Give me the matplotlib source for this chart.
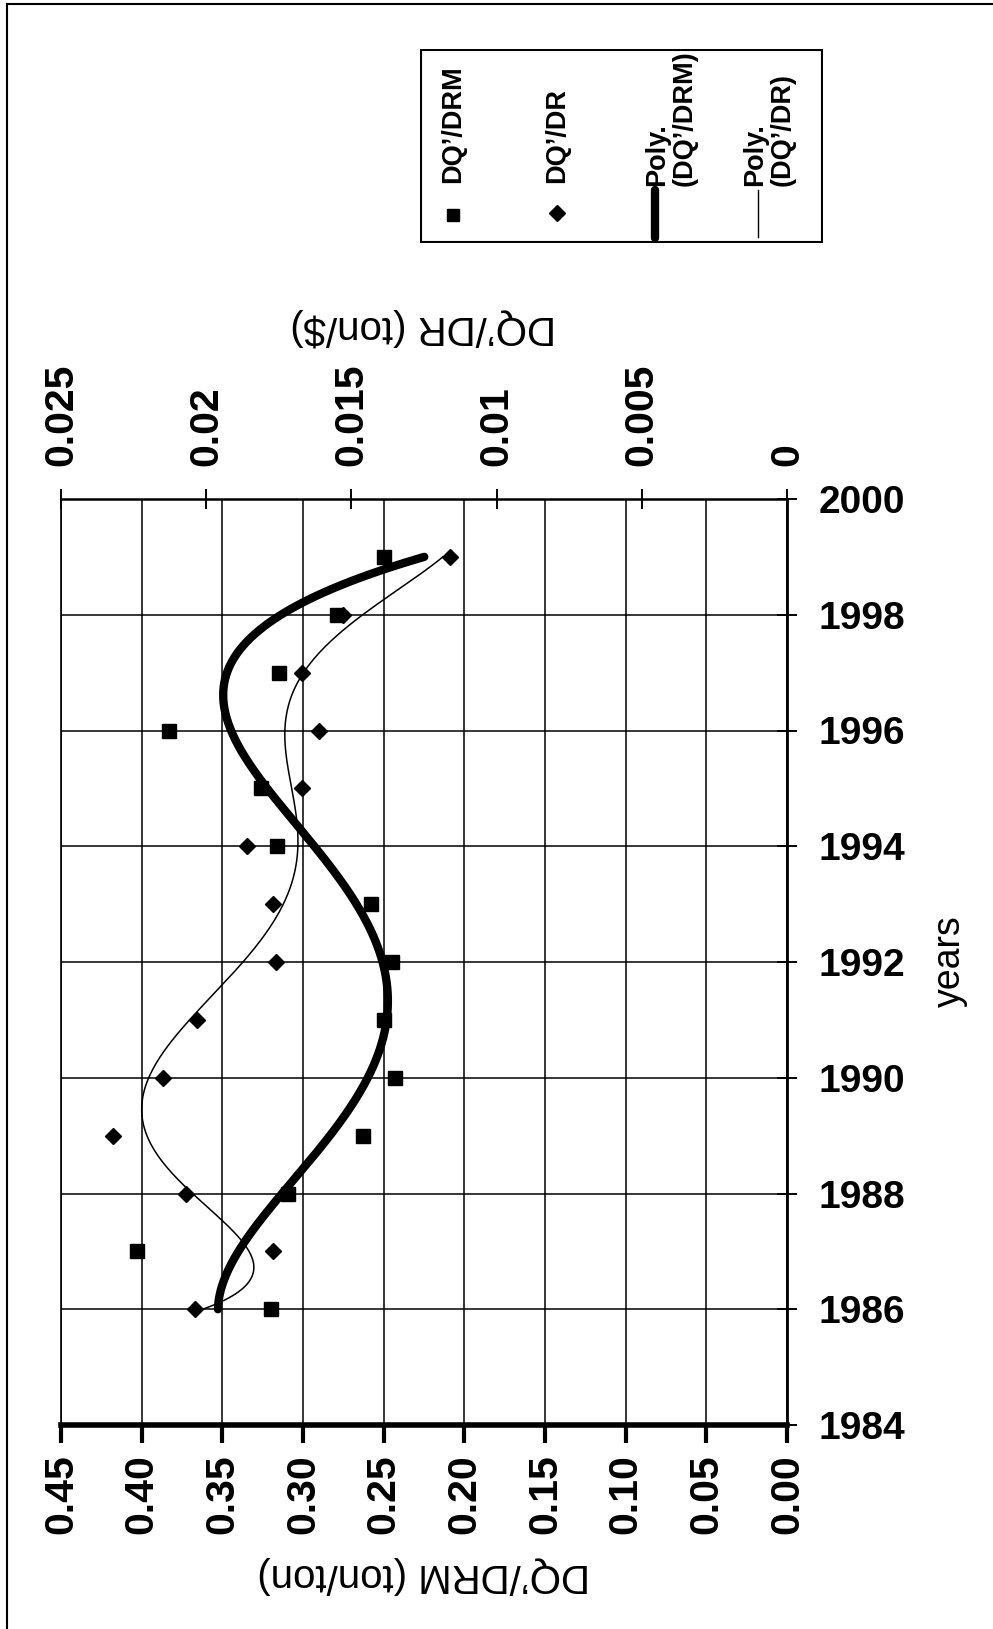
import numpy as np
import matplotlib
matplotlib.use("Agg")
import matplotlib.pyplot as plt
from matplotlib.lines import Line2D
from matplotlib.patches import Rectangle

plt.rcParams['font.family'] = ['Liberation Sans', 'DejaVu Sans']

# data
years = [1986, 1987, 1988, 1989, 1990, 1991, 1992, 1993, 1994, 1995, 1996, 1997, 1998, 1999]
drm = [0.320, 0.403, 0.309, 0.263, 0.243, 0.250, 0.245, 0.258, 0.316, 0.326, 0.383, 0.315, 0.279, 0.250]
dr = [0.0204, 0.0177, 0.0207, 0.0232, 0.0215, 0.0203, 0.0176, 0.0177, 0.0186, 0.0167, 0.0161, 0.0167, 0.0153, 0.0116]

drm_ticks = [0.45, 0.40, 0.35, 0.30, 0.25, 0.20, 0.15, 0.10, 0.05, 0.00]
drm_labels = ["0.45", "0.40", "0.35", "0.30", "0.25", "0.20", "0.15", "0.10", "0.05", "0.00"]
dr_ticks = [0.025, 0.02, 0.015, 0.01, 0.005, 0]
dr_labels = ["0.025", "0.02", "0.015", "0.01", "0.005", "0"]
year_ticks = [1984, 1986, 1988, 1990, 1992, 1994, 1996, 1998, 2000]

# polynomial trendlines (like Excel "Poly."), order 4 and 6
yrs = np.array(years, dtype=float)
t = yrs - 1985
t_fine = np.linspace(t.min(), t.max(), 400)
drm_fit = np.polyval(np.polyfit(t, drm, 4), t_fine)
dr_fit = np.polyval(np.polyfit(t, dr, 6), t_fine)

W, H = 993, 1629
fig = plt.figure(figsize=(W / 100, H / 100), dpi=100)

left, right, top, bottom = 61, 787, 499, 1425
ax = fig.add_axes([left / W, 1 - bottom / H, (right - left) / W, (bottom - top) / H])
ax2 = ax.twiny()

ax.set_xlim(0.45, 0)
ax.set_ylim(1984, 2000)
ax2.set_xlim(0.025, 0)

ax.grid(True, color='black', lw=1.1)
ax.set_axisbelow(True)

ax.plot(drm, years, 's', color='black', ms=9.5, zorder=3)
ax.plot(drm_fit, t_fine + 1985, color='black', lw=6, solid_capstyle='round', zorder=4)
ax2.plot(dr, years, 'D', color='black', ms=8.5, zorder=3)
ax2.plot(dr_fit, t_fine + 1985, color='black', lw=1.1, zorder=4)

# bottom axis (DQ'/DRM)
ax.set_xticks(drm_ticks)
ax.set_xticklabels(drm_labels)
ax.tick_params(axis='x', bottom=True, top=False, direction='out', length=13, width=3,
               pad=8, labelsize=29.5, labelrotation=90)
for lab in ax.get_xticklabels():
    lab.set_fontweight('bold')

# right axis (years)
ax.set_yticks(year_ticks)
ax.yaxis.tick_right()
ax.tick_params(axis='y', left=False, right=True, direction='inout', length=14, width=1.4,
               pad=16, labelsize=28)
for lab in ax.get_yticklabels():
    lab.set_fontweight('bold')

# top axis (DQ'/DR)
ax2.set_xticks(dr_ticks)
ax2.set_xticklabels(dr_labels)
ax2.tick_params(axis='x', direction='inout', length=14, width=1.4, pad=17,
                labelsize=29.5, labelrotation=90)
for lab in ax2.get_xticklabels():
    lab.set_fontweight('bold')

ax.spines['bottom'].set_linewidth(4)
ax.spines['right'].set_linewidth(2)
ax.spines['left'].set_linewidth(1.2)
ax.spines['top'].set_visible(False)
for s in ['left', 'right', 'bottom']:
    ax2.spines[s].set_visible(False)
ax2.spines['top'].set_linewidth(1.8)

# axis titles (chart is turned on its side)
fig.text(424 / W, 1 - 1575 / H, "DQ’/DRM (ton/ton)", rotation=180, ha='center', va='center',
         fontsize=29)
fig.text(423 / W, 1 - 327 / H, "DQ’/DR (ton/$)", rotation=180, ha='center', va='center',
         fontsize=29)
fig.text(950 / W, 1 - 961 / H, "years", rotation=90, ha='center', va='center', fontsize=27)

# legend, drawn rotated
lg = fig.add_axes([420 / W, 1 - 243 / H, 403 / W, 194 / H])
lg.set_xlim(420, 823)
lg.set_ylim(243, 49)
lg.axis('off')
lg.add_patch(Rectangle((421, 50), 401, 192, fill=False, lw=1.5, edgecolor='black'))
lg.plot([453], [215], 's', color='black', ms=9)
lg.plot([557], [213], 'D', color='black', ms=8.5)
lg.plot([655, 655], [238, 190], color='black', lw=6, solid_capstyle='round')
lg.plot([758, 758], [237, 190], color='black', lw=1)
kw = dict(rotation=90, rotation_mode='anchor', ha='left', va='center', fontsize=19.5,
          fontweight='bold', linespacing=1.05)
lg.text(453, 183, "DQ’/DRM", **kw)
lg.text(557, 183, "DQ’/DR", **kw)
lg.text(671, 186, "Poly.\n(DQ’/DRM)", **kw)
lg.text(769, 186, "Poly.\n(DQ’/DR)", **kw)

# page frame
fig.add_artist(Line2D([7 / W, 7 / W], [0, 1 - 4 / H], transform=fig.transFigure, color='black', lw=1.5))
fig.add_artist(Line2D([7 / W, 1], [1 - 4 / H, 1 - 4 / H], transform=fig.transFigure, color='black', lw=1.5))

fig.savefig("out.png", dpi=100)
